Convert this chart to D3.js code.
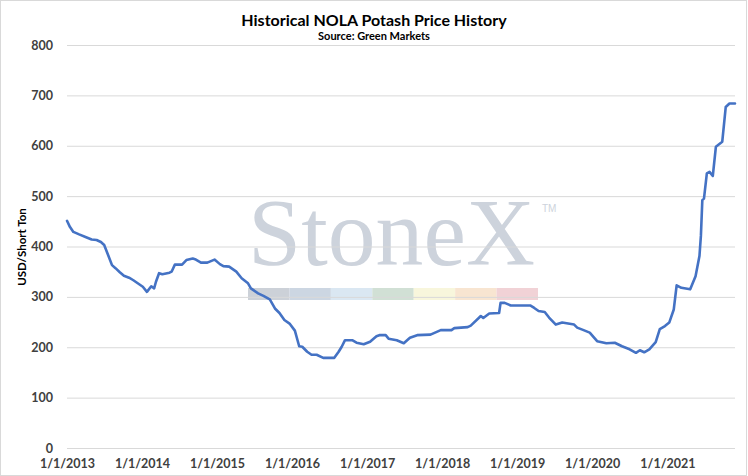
<html>
<head>
<script src="https://cdn.jsdelivr.net/npm/d3@7"></script>
<style>
  body { margin: 0; background: #fff; }
  text { font-family: Lato, "Noto Sans", sans-serif; }
</style>
</head>
<body>
<svg id="chart" width="748" height="476"></svg>
<script>
// weekly/monthly NOLA potash quotes (USD per short ton)
var dates = [
  "2013-01-01","2013-01-15","2013-02-01","2013-03-01","2013-04-01","2013-05-01","2013-05-25","2013-06-15",
  "2013-07-01","2013-07-20","2013-08-08","2013-08-25","2013-09-15","2013-10-05","2013-10-30","2013-11-20",
  "2014-01-05","2014-01-25","2014-02-15","2014-03-01","2014-03-10","2014-03-25","2014-04-10","2014-05-15",
  "2014-05-25","2014-06-10","2014-07-15","2014-08-05","2014-09-05","2014-09-20","2014-10-15","2014-11-15",
  "2014-12-20","2015-01-15","2015-02-01","2015-03-01","2015-04-05","2015-05-01","2015-06-01","2015-06-15",
  "2015-07-20","2015-08-15","2015-09-15","2015-10-10","2015-11-01","2015-11-25","2015-12-20","2016-01-15",
  "2016-02-05","2016-02-20","2016-03-15","2016-04-05","2016-04-30","2016-06-01","2016-07-25","2016-08-15",
  "2016-08-30","2016-09-15","2016-10-20","2016-11-10","2016-12-15","2017-01-15","2017-02-15","2017-03-01",
  "2017-04-01","2017-04-15","2017-05-25","2017-06-28","2017-07-28","2017-09-01","2017-11-05","2017-12-25",
  "2018-02-15","2018-03-01","2018-05-05","2018-05-20","2018-07-08","2018-07-20","2018-08-18","2018-10-05",
  "2018-10-12","2018-11-01","2018-12-01","2019-03-05","2019-03-25","2019-04-15","2019-05-15","2019-06-05",
  "2019-07-08","2019-08-08","2019-10-05","2019-10-20","2019-11-20","2019-12-20","2020-01-25","2020-03-10",
  "2020-04-20","2020-05-25","2020-07-01","2020-08-01","2020-08-20","2020-09-10","2020-10-05","2020-11-05",
  "2020-11-25","2020-12-20","2021-01-10","2021-02-01","2021-02-15","2021-03-10","2021-04-22","2021-05-18",
  "2021-06-06","2021-06-13","2021-06-20","2021-06-28","2021-07-12","2021-07-25","2021-08-10","2021-08-25",
  "2021-09-25","2021-10-12","2021-10-30","2021-11-26"
];
var prices = [
  451,439,429,424,419,414,413,409,
  403,383,363,357,349,342,338,333,
  320,310,321,317,330,347,345,348,
  350,364,364,373,376,374,368,368,
  374,365,361,360,350,337,327,317,
  307,302,295,277,268,254,247,233,
  202,201,191,185,185,179,179,191,
  201,214,214,209,206,211,222,224,
  224,217,214,208,219,224,225,234,
  234,238,240,243,262,258,267,268,
  288,288,283,283,278,272,270,259,
  245,249,245,239,234,229,212,208,
  209,202,196,189,194,190,196,210,
  236,242,249,275,323,318,315,341,
  381,421,492,495,545,548,540,598,
  608,677,684,684
];
var yTicks = [0, 100, 200, 300, 400, 500, 600, 700, 800];
var xTickYears = [2013, 2014, 2015, 2016, 2017, 2018, 2019, 2020, 2021];
var barColors = ["#ccd1d8", "#ccd6e2", "#dae7f2", "#d1e0d5", "#f8f6dc", "#f8e5d1", "#f1d2d6"];

var parse = d3.timeParse("%Y-%m-%d");
var data = dates.map(function (d, i) { return { date: parse(d), value: prices[i] }; });

var svg = d3.select("#chart");
var W = 748, H = 476;
var m = { left: 67, right: 13, top: 45, bottom: 28 };

svg.append("rect").attr("x", 0.5).attr("y", 0.5).attr("width", W - 2).attr("height", H - 1)
  .attr("fill", "#fff").attr("stroke", "#d9d9d9");

var x = d3.scaleTime()
  .domain([parse("2013-01-01"), parse("2021-11-26")])
  .range([m.left, W - m.right]);
var y = d3.scaleLinear().domain([0, 800]).range([H - m.bottom, m.top]);

// watermark
var wm = svg.append("g");
wm.append("text").attr("x", 248).attr("y", 265)
  .attr("textLength", 287).attr("lengthAdjust", "spacingAndGlyphs")
  .style("font-family", "'Liberation Serif', 'DejaVu Serif', serif")
  .style("font-size", "96px").attr("fill", "#cdd3dc").text("StoneX");
wm.append("text").attr("x", 542).attr("y", 212)
  .style("font-family", "'Liberation Sans', sans-serif")
  .style("font-size", "10px").attr("fill", "#cdd3dc").text("TM");
var barX = d3.scaleBand().domain(d3.range(barColors.length)).range([248, 538]);
wm.selectAll("rect").data(barColors).enter().append("rect")
  .attr("x", function (d, i) { return barX(i); })
  .attr("y", 288).attr("height", 12)
  .attr("width", barX.bandwidth())
  .attr("fill", function (d) { return d; });

// grid + y axis
var yAxis = svg.append("g").attr("transform", "translate(" + m.left + ",0)")
  .call(d3.axisLeft(y).tickValues(yTicks).tickSize(-(W - m.left - m.right)).tickPadding(14));
yAxis.select(".domain").remove();
yAxis.selectAll(".tick line").attr("stroke", "#d9d9d9");
yAxis.selectAll(".tick text").attr("fill", "#404040")
  .style("font-size", "12.5px").style("font-weight", "bold");

// x axis
var xAxis = svg.append("g").attr("transform", "translate(0," + (H - m.bottom) + ")")
  .call(d3.axisBottom(x)
    .tickValues(xTickYears.map(function (yr) { return new Date(yr, 0, 1); }))
    .tickFormat(d3.timeFormat("%-m/%-d/%Y")).tickSize(0).tickPadding(11));
xAxis.select(".domain").remove();
xAxis.selectAll(".tick text").attr("fill", "#404040")
  .style("font-size", "12.5px").style("font-weight", "bold");

// price line
svg.append("path").datum(data)
  .attr("fill", "none").attr("stroke", "#4472c4").attr("stroke-width", 2.6)
  .attr("stroke-linejoin", "round").attr("stroke-linecap", "round")
  .attr("d", d3.line().x(function (d) { return x(d.date); }).y(function (d) { return y(d.value); }));

// titles
svg.append("text").attr("x", 374).attr("y", 26).attr("text-anchor", "middle")
  .style("font-size", "16px").style("font-weight", "bold").attr("fill", "#000")
  .text("Historical NOLA Potash Price History");
svg.append("text").attr("x", 374).attr("y", 40).attr("text-anchor", "middle")
  .style("font-size", "11px").style("font-weight", "bold").attr("fill", "#000")
  .text("Source: Green Markets");
svg.append("text").attr("transform", "translate(26,247) rotate(-90)").attr("text-anchor", "middle")
  .style("font-size", "11.5px").style("font-weight", "bold").attr("fill", "#000")
  .text("USD/Short Ton");
</script>
</body>
</html>
